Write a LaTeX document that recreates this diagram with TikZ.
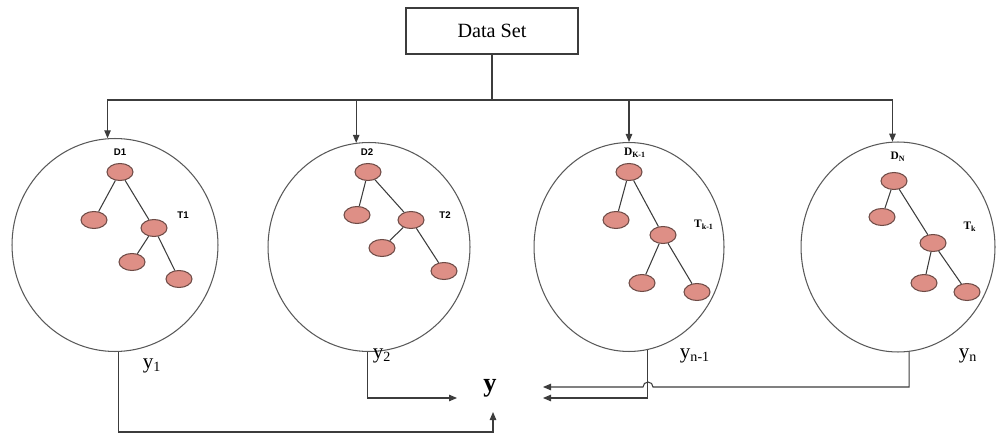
\documentclass[tikz,border=0pt]{standalone}
\usepackage{fontspec}
\setmainfont{Liberation Serif}
\newfontfamily\labelsans{Liberation Sans}
\usepackage{tikz}
\usetikzlibrary{arrows.meta,shapes.geometric}
\definecolor{LeafFill}{HTML}{DE8F86}
\definecolor{LeafEdge}{HTML}{6E4B46}
\definecolor{WireGray}{HTML}{3C3C3C}

% one small decision tree: prefix, root, left, right, right-left, right-right
\newcommand{\treeat}[6]{%
  \node[leaf] (#1r) at (#2) {};
  \node[leaf] (#1a) at (#3) {};
  \node[leaf] (#1b) at (#4) {};
  \node[leaf] (#1c) at (#5) {};
  \node[leaf] (#1d) at (#6) {};
  \draw[branch] (#1r)--(#1a) (#1r)--(#1b) (#1b)--(#1c) (#1b)--(#1d);
}

\begin{document}
\begin{tikzpicture}[x=0.02cm,y=-0.02cm,
  wire/.style={draw=WireGray,line width=0.6pt},
  arr/.style={wire,-{Triangle[length=1.6mm,width=1.3mm]}},
  bag/.style={ellipse,draw=WireGray!85,line width=0.6pt,inner sep=0pt},
  leaf/.style={ellipse,draw=LeafEdge,fill=LeafFill,line width=0.6pt,minimum width=0.52cm,minimum height=0.34cm,inner sep=0pt},
  branch/.style={draw=WireGray,line width=0.6pt},
  tag/.style={font=\labelsans\fontsize{5.5}{6}\selectfont\bfseries},
  stag/.style={font=\fontsize{6.5}{7}\selectfont\bfseries},
  ylabel/.style={font=\fontsize{12}{14}\selectfont}]
  \useasboundingbox (0,0) rectangle (999,435);

  \node[draw=WireGray,line width=0.6pt,minimum width=3.44cm,minimum height=0.92cm,font=\fontsize{11.5}{13}\selectfont] (ds) at (492,31) {Data Set};
  \coordinate (bus) at (492,100);

  % bootstrap samples
  \node[bag,minimum width=4.12cm,minimum height=4.26cm] (c1) at (115,245) {};
  \node[bag,minimum width=4.04cm,minimum height=4.18cm] (c2) at (369,247) {};
  \node[bag,minimum width=3.80cm,minimum height=4.18cm] (c3) at (629,247) {};
  \node[bag,minimum width=3.88cm,minimum height=4.20cm] (c4) at (898,247) {};

  \draw[wire] (ds.south)--(bus);
  \draw[arr] (bus) -| (c1.94);
  \draw[arr] (bus) -| (c2.97);
  \draw[arr] (bus) -| (c3.90);
  \draw[arr] (bus) -| (c4.93);

  % trees
  \treeat{a}{120,172}{94,220}{154,228}{132,262}{179,279}
  \treeat{b}{368,172}{357,215}{411,220}{382,248}{444,271}
  \treeat{c}{629,172}{616,220}{663,235}{642,283}{697,292}
  \treeat{d}{894,181}{882,217}{933,243}{924,283}{967,292}

  \node[tag] at (120,152) {D1};
  \node[tag] at (183,215) {T1};
  \node[tag] at (367,152) {D2};
  \node[tag] at (445,215) {T2};
  \node[stag] at (635,153) {D\textsubscript{K-1}};
  \node[stag] at (704,225) {T\textsubscript{k-1}};
  \node[stag] at (898,157) {D\textsubscript{N}};
  \node[stag] at (970,227) {T\textsubscript{k}};

  % outputs
  \node[ylabel] at (152,366) {y\textsubscript{1}};
  \node[ylabel] at (382,356) {y\textsubscript{2}};
  \node[ylabel] at (695,356) {y\textsubscript{n-1}};
  \node[ylabel] at (968,356) {y\textsubscript{n}};
  \node[font=\fontsize{15}{17}\selectfont\bfseries] (Y) at (490,388) {y};

  \coordinate (in1) at (493,412);
  \coordinate (in2) at (457,398);
  \coordinate (in3) at (543,398);
  \coordinate (in4) at (543,387);

  \draw[arr] (c1.272) |- (493,432) -- (in1);
  \draw[arr] (c2.269) |- (in2);
  \draw[arr] (c3.280) |- (in3);
  \draw[arr] (c4.276) |- (653,387) arc[start angle=0,end angle=-180,radius=5] -- (in4);
\end{tikzpicture}
\end{document}
